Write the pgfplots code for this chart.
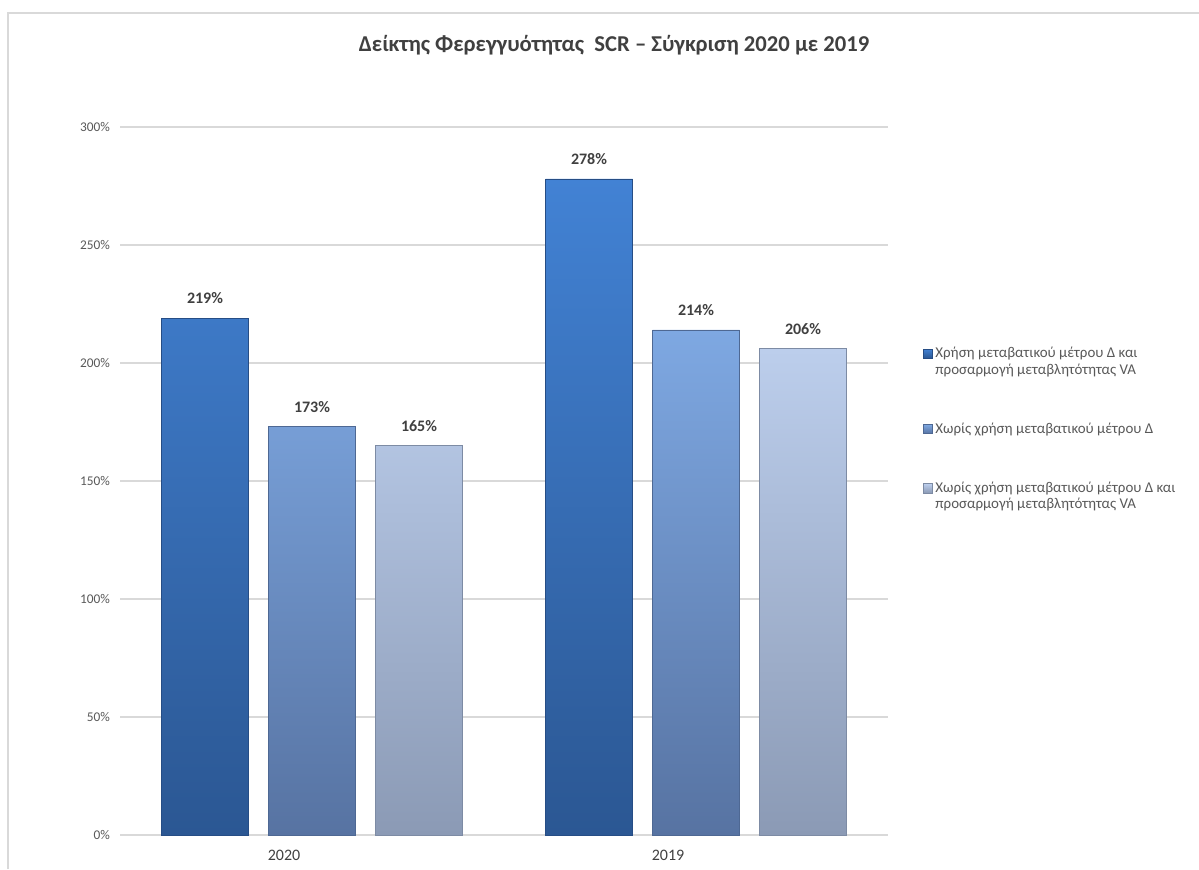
\documentclass[border=0pt]{standalone}
\usepackage{pgfplots}
\pgfplotsset{compat=1.18}
\usepackage{fontspec}
\setmainfont{Carlito}
\definecolor{borderc}{HTML}{D9D9D9}
\definecolor{gridc}{HTML}{D9D9D9}
\definecolor{titlec}{HTML}{404040}
\definecolor{tickc}{HTML}{595959}
\definecolor{labc}{HTML}{404040}
\definecolor{aTop}{HTML}{4282D4}
\definecolor{aBot}{HTML}{2B5793}
\definecolor{aEdge}{HTML}{264D85}
\definecolor{bTop}{HTML}{7EA8E2}
\definecolor{bBot}{HTML}{5773A2}
\definecolor{bEdge}{HTML}{4E6893}
\definecolor{cTop}{HTML}{BCCEEC}
\definecolor{cBot}{HTML}{8B9AB5}
\definecolor{cEdge}{HTML}{7D8BA4}
\pgfplotsset{
  twoline/.style={legend image code/.code={\pgfpathrectangle{\pgfpoint{0pt}{-10pt}}{\pgfpoint{6.8pt}{20pt}}\pgfusepath{use as bounding box}\draw[##1,/tikz/.cd,line width=0.5pt] (0pt,2.6pt) rectangle (6.8pt,9.4pt);}}
}
\begin{document}
\begin{tikzpicture}
\path[use as bounding box] (0pt,0pt) rectangle (899.25pt,651.75pt);
\draw[color=borderc, line width=1.5pt] (6pt,0pt) -- (6pt,642pt) -- (899.25pt,642pt);
\node[font=\bfseries\fontsize{17}{20}\selectfont, text=titlec] at (460.5pt,618pt) {Δείκτης Φερεγγυότητας~~SCR – Σύγκριση 2020 με 2019};
\begin{axis}[
  at={(90pt,25.5pt)}, anchor=south west,
  scale only axis, width=576pt, height=531pt,
  xmin=-0.5, xmax=1.5, ymin=0, ymax=300,
  ybar=15pt, bar width=65.25pt,
  xtick={0,1}, xticklabels={2020,2019},
  ytick={0,50,100,150,200,250,300},
  yticklabel={\pgfmathprintnumber{\tick}\%},
  /pgf/number format/assume math mode=true,
  axis line style={draw=none},
  major tick length=0pt,
  ymajorgrids, grid style={color=gridc, line width=0.9pt},
  yticklabel style={font=\fontsize{10}{12}\selectfont, text=tickc, xshift=-4pt},
  xticklabel style={font=\fontsize{12}{14}\selectfont, text=labc, xshift=-21pt, yshift=-8pt},
  nodes near coords={\pgfmathprintnumber{\pgfplotspointmeta}\%},
  every node near coord/.append style={font=\bfseries\fontsize{12}{14}\selectfont, text=labc, yshift=7pt},
  legend style={at={(1.04,0.697)}, anchor=north west, draw=none, fill=none,
    font=\fontsize{11.2}{12.3}\selectfont, text=tickc, row sep=31pt,
    cells={anchor=west, align=left}},
  legend image code/.code={\draw[#1,/tikz/.cd,line width=0.5pt] (0pt,-3.4pt) rectangle (6.8pt,3.4pt);},
  clip=false,
]
\addplot[top color=aTop, bottom color=aBot, draw=aEdge, line width=0.6pt, twoline] coordinates {(0,219) (1,278)};
\addlegendentry{Χρήση μεταβατικού μέτρου Δ και\\προσαρμογή μεταβλητότητας VA}
\addplot[top color=bTop, bottom color=bBot, draw=bEdge, line width=0.6pt] coordinates {(0,173) (1,214)};
\addlegendentry{Χωρίς χρήση μεταβατικού μέτρου Δ}
\addplot[top color=cTop, bottom color=cBot, draw=cEdge, line width=0.6pt, twoline] coordinates {(0,165) (1,206)};
\addlegendentry{Χωρίς χρήση μεταβατικού μέτρου Δ και\\προσαρμογή μεταβλητότητας VA}
\end{axis}
\end{tikzpicture}
\end{document}
